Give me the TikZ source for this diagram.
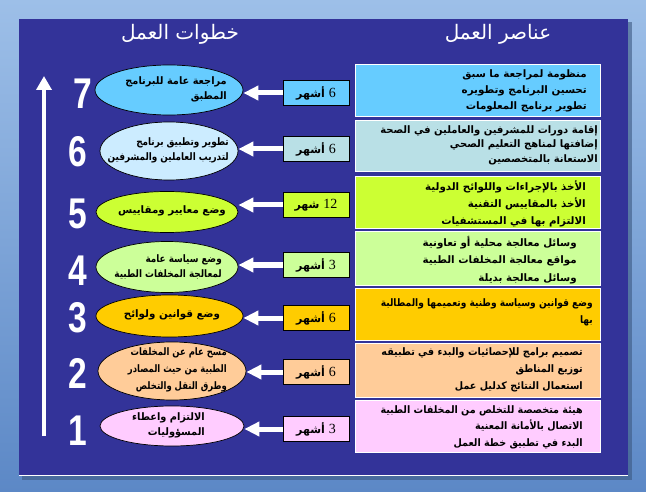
\documentclass[tikz,border=0pt]{standalone}
\usepackage{fontspec}
\usepackage{graphicx}
\usetikzlibrary{arrows.meta,shapes.geometric}
\TeXXeTstate=1
\newfontfamily\arb[Script=Arabic]{DejaVu Sans}
\newfontfamily\numfont{Liberation Sans}
\newfontfamily\serfont{Liberation Serif}
\newcommand\mon[1]{{\serfont\mdseries\fontsize{14}{14}\selectfont #1}}
\definecolor{slide}{HTML}{333399}
\definecolor{bgtop}{HTML}{9DBFE8}
\definecolor{bgbot}{HTML}{5C88C6}
\definecolor{cseven}{HTML}{66CCFF}
\definecolor{csix}{HTML}{B9E0E6}
\definecolor{csixe}{HTML}{CCECFF}
\definecolor{cfive}{HTML}{CCFF33}
\definecolor{cfour}{HTML}{CCFF99}
\definecolor{cthree}{HTML}{FFCC00}
\definecolor{ctwo}{HTML}{FFCC99}
\definecolor{cone}{HTML}{FFCCFF}
\tikzset{
  bigbox/.style={draw=white, line width=1pt, minimum width=245pt, inner sep=0pt},
  smallbox/.style={draw=black, line width=0.9pt, minimum width=66pt, minimum height=25pt, inner sep=0pt,
     font=\arb\bfseries\fontsize{11}{13}\selectfont},
  ell/.style={ellipse, draw=black, line width=0.7pt, inner sep=0pt},
  boxtxt/.style={anchor=east, align=right, inner sep=0pt, font=\arb\bfseries\fontsize{10.3}{16}\selectfont},
  elltxt/.style={align=right, inner sep=0pt, font=\arb\bfseries\fontsize{10.3}{15}\selectfont},
  numtxt/.style={text=white, inner sep=0pt, font=\numfont\bfseries\fontsize{43}{43}\selectfont},
  titletxt/.style={text=white, inner sep=0pt, font=\arb\fontsize{20}{22}\selectfont},
  warrow/.style={draw=white, line width=5pt, -{Triangle[width=14pt,length=15pt]}},
}
\begin{document}
\begin{tikzpicture}[x=1pt,y=-1pt]
\useasboundingbox (0,0) rectangle (646,492);
\shade[top color=bgtop, bottom color=bgbot] (0,0) rectangle (646,492);
\fill[black!35!bgbot, opacity=0.6] (22,22) rectangle (632,480);
\fill[slide] (19,19) rectangle (628,475);
\draw[white, line width=1pt] (19,475) -- (628,475);

% titles
\node[titletxt] (tR) at (498,34) {\beginR عناصر العمل\endR};
\node[titletxt] (tL) at (180,34) {\beginR خطوات العمل\endR};

% vertical arrow
\coordinate (vb) at (44,436);
\coordinate (vt) at (44,76);
\draw[white, line width=4pt, -{Triangle[width=15pt,length=14pt]}] (vb) -- (vt);

% big boxes
\node[bigbox, fill=cseven, minimum height=52pt] (b7) at (477.5,91) {};
\node[bigbox, fill=csix,   minimum height=51pt] (b6) at (477.5,146.5) {};
\node[bigbox, fill=cfive,  minimum height=52pt] (b5) at (477.5,203) {};
\node[bigbox, fill=cfour,  minimum height=53pt] (b4) at (477.5,258.5) {};
\node[bigbox, fill=cthree, minimum height=52pt] (b3) at (477.5,314) {};
\node[bigbox, fill=ctwo,   minimum height=54pt] (b2) at (477.5,370) {};
\node[bigbox, fill=cone,   minimum height=52pt] (b1) at (477.5,426) {};

\node[boxtxt] (x7) at (587,91) {\beginR منظومة لمراجعة ما سبق\endR\\\beginR تحسين البرنامج وتطويره\endR\\\beginR تطوير برنامج المعلومات\endR};
\node[boxtxt, font=\arb\bfseries\fontsize{10.3}{14.5}\selectfont] (x6) at (598,145) {\scalebox{0.97}[1]{\beginR إقامة دورات للمشرفين والعاملين في الصحة\endR}\\\scalebox{0.97}[1]{\beginR إضافتها لمناهج التعليم الصحي\endR}\\\scalebox{0.97}[1]{\beginR الاستعانة بالمتخصصين\endR}};
\node[boxtxt, font=\arb\bfseries\fontsize{10.3}{17}\selectfont] (x5) at (586,204) {\beginR الأخذ بالإجراءات واللوائح الدولية\endR\\\beginR الأخذ بالمقاييس التقنية\endR\\\beginR الالتزام بها في المستشفيات\endR};
\node[boxtxt, font=\arb\bfseries\fontsize{10.3}{17.5}\selectfont] (x4) at (577,260) {\beginR وسائل معالجة محلية أو تعاونية\endR\\\beginR مواقع معالجة المخلفات الطبية\endR\\\beginR وسائل معالجة بديلة\endR};
\node[boxtxt, font=\arb\bfseries\fontsize{10.3}{17}\selectfont] (x3) at (593,312) {\scalebox{0.88}[1]{\beginR وضع قوانين وسياسة وطنية وتعميمها والمطالبة\endR}\\\scalebox{0.88}[1]{\beginR بها\endR}};
\node[boxtxt, font=\arb\bfseries\fontsize{10.3}{17}\selectfont] (x2) at (583,370) {\scalebox{0.93}[1]{\beginR تصميم برامج للإحصائيات والبدء في تطبيقه\endR}\\\scalebox{0.93}[1]{\beginR توزيع المناطق\endR}\\\scalebox{0.93}[1]{\beginR استعمال النتائج كدليل عمل\endR}};
\node[boxtxt, font=\arb\bfseries\fontsize{10.3}{16.5}\selectfont] (x1) at (583,427) {\scalebox{0.93}[1]{\beginR هيئة متخصصة للتخلص من المخلفات الطبية\endR}\\\scalebox{0.93}[1]{\beginR الاتصال بالأمانة المعنية\endR}\\\scalebox{0.93}[1]{\beginR البدء في تطبيق خطة العمل\endR}};

% small boxes
\node[smallbox, fill=cseven] (s7) at (316,93) {\beginR\mon{6} أشهر\endR};
\node[smallbox, fill=csix]   (s6) at (316,149) {\beginR\mon{6} أشهر\endR};
\node[smallbox, fill=cfive]  (s5) at (316,205) {\beginR\mon{12} شهر\endR};
\node[smallbox, fill=cfour]  (s4) at (316,265) {\beginR\mon{3} أشهر\endR};
\node[smallbox, fill=cthree] (s3) at (316,318) {\beginR\mon{6} أشهر\endR};
\node[smallbox, fill=ctwo]   (s2) at (316,372) {\beginR\mon{6} أشهر\endR};
\node[smallbox, fill=cone]   (s1) at (316,429) {\beginR\mon{3} أشهر\endR};

% ellipses
\node[ell, fill=cseven, minimum width=148pt, minimum height=50pt] (e7) at (169,90) {};
\node[ell, fill=csixe,  minimum width=138pt, minimum height=58pt] (e6) at (169,151) {};
\node[ell, fill=cfive,  minimum width=142pt, minimum height=41pt] (e5) at (167,212) {};
\node[ell, fill=cfour,  minimum width=142pt, minimum height=51pt] (e4) at (167,267) {};
\node[ell, fill=cthree, minimum width=147pt, minimum height=42pt] (e3) at (169.5,316) {};
\node[ell, fill=ctwo,   minimum width=148pt, minimum height=58pt] (e2) at (172,371) {};
\node[ell, fill=cone,   minimum width=144pt, minimum height=40pt] (e1) at (172,426) {};

\node[elltxt, anchor=east] (l7) at (227,89) {\scalebox{0.95}[1]{\beginR مراجعة عامة للبرنامج\endR}\\\scalebox{0.95}[1]{\beginR المطبق\endR}};
\node[elltxt, anchor=east] (l6) at (229,150) {\scalebox{0.86}[1]{\beginR تطوير وتطبيق برنامج\endR}\\\scalebox{0.86}[1]{\beginR لتدريب العاملين والمشرفين\endR}};
\node[elltxt] (l5) at (172,211) {\beginR وضع معايير ومقاييس\endR};
\node[elltxt, anchor=east] (l4) at (222,267) {\scalebox{0.86}[1]{\beginR وضع  سياسة عامة\endR}\\\scalebox{0.86}[1]{\beginR لمعالجة المخلفات الطبية\endR}};
\node[elltxt] (l3) at (172,315) {\beginR وضع قوانين ولوائح\endR};
\node[elltxt, anchor=east, font=\arb\bfseries\fontsize{10.3}{17}\selectfont] (l2) at (227,370) {\scalebox{0.82}[1]{\beginR مسح عام عن المخلفات\endR}\\\scalebox{0.82}[1]{\beginR الطبية من حيث المصادر\endR}\\\scalebox{0.82}[1]{\beginR وطرق النقل والتخلص\endR}};
\node[elltxt, anchor=east] (l1) at (205,425) {\scalebox{0.95}[1]{\beginR الالتزام واعطاء\endR}\\\scalebox{0.95}[1]{\beginR المسؤوليات\endR}};

% arrows
\foreach \i in {7,6,5,4,3,2,1}{
  \draw[warrow] (s\i.west) -- (e\i.east |- s\i.west);
}

% numbers
\node[numtxt, xscale=0.78] (n7) at (83,94) {7};
\node[numtxt, xscale=0.78] (n6) at (78,152) {6};
\node[numtxt, xscale=0.78] (n5) at (78,214) {5};
\node[numtxt, xscale=0.78] (n4) at (78,271) {4};
\node[numtxt, xscale=0.78] (n3) at (78,318) {3};
\node[numtxt, xscale=0.78] (n2) at (78,373) {2};
\node[numtxt, xscale=0.78] (n1) at (78,431) {1};
\end{tikzpicture}
\end{document}
